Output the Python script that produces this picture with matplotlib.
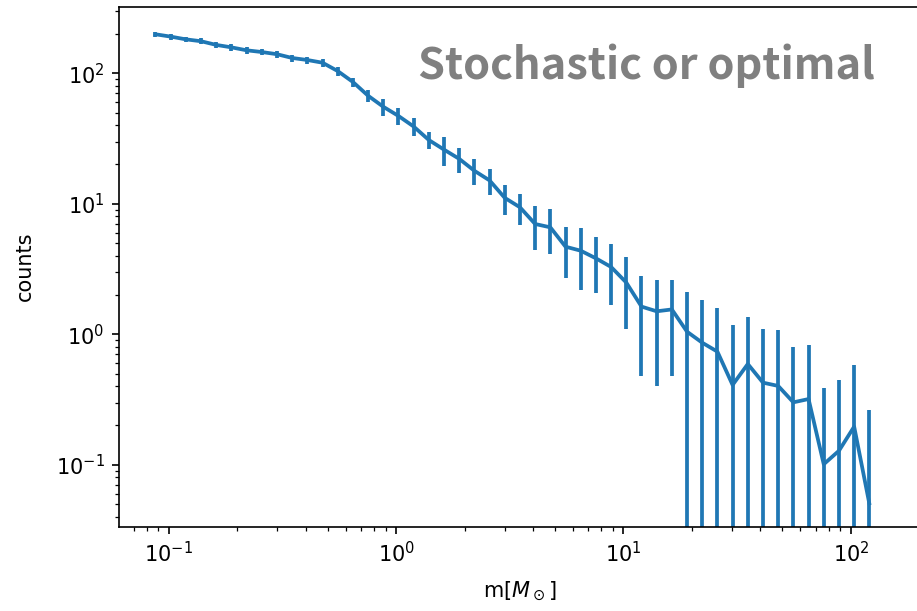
import numpy as np
import matplotlib.pyplot as plt


# ============================================================
#  data : mass bin centres, mean counts and their spread
# ============================================================
mass = [0.0874, 0.1019, 0.1188, 0.1387, 0.1617, 0.1886, 0.2199, 0.2565,
        0.2991, 0.3489, 0.4069, 0.4746, 0.5535, 0.6455, 0.7528, 0.8780,
        1.024, 1.194, 1.393, 1.624, 1.894, 2.209, 2.577, 3.005,
        3.505, 4.087, 4.767, 5.560, 6.484, 7.562, 8.820, 10.29,
        12.00, 13.99, 16.32, 19.03, 22.20, 25.89, 30.19, 35.22,
        41.07, 47.90, 55.87, 65.16, 75.99, 88.62, 103.4, 120.5]

counts = [199, 191, 182, 176, 165, 158, 150, 145.5,
          140, 131, 126.4, 120.5, 104, 85.8, 67.3, 55.4,
          47.1, 39.1, 30.8, 26.0, 22.1, 17.9, 15.1, 11.1,
          9.4, 7.0, 6.6, 4.69, 4.37, 3.82, 3.28, 2.49,
          1.63, 1.50, 1.55, 1.047, 0.862, 0.736, 0.409, 0.592,
          0.426, 0.402, 0.301, 0.319, 0.101, 0.128, 0.196, 0.0507]

err = [9.5, 10, 9, 9, 10, 9.5, 9, 8.5,
       8, 8, 8, 8, 8, 7, 7, 8,
       7, 6, 4.5, 6.5, 4.8, 4, 3.5, 2.9,
       2.5, 2.6, 2.5, 2.0, 2.2, 1.76, 1.6, 1.4,
       1.15, 1.1, 1.07, 1.05, 0.97, 0.85, 0.77, 0.76,
       0.68, 0.68, 0.50, 0.51, 0.29, 0.32, 0.39, 0.21]


# ============================================================
#  figure (917x611 px)
# ============================================================
W, H = 917, 611
DPI = 150
fig = plt.figure(figsize=(W / DPI, H / DPI), dpi=DPI)

# axes box in pixels: left 119, right ~921 (cut off by the image edge)
left, right, top, bottom = 119, 921, 6.7, 526.7
ax = fig.add_axes([left / W, 1 - bottom / H, (right - left) / W, (bottom - top) / H])

ax.errorbar(mass, counts, yerr=err, color="#1f77b4", lw=1.8, elinewidth=1.8)

ax.set_xscale("log")
ax.set_yscale("log")
ax.set_xlim(10 ** -1.2188, 10 ** 2.3085)
ax.set_ylim(0.03354, 323.7)

ax.set_xlabel(r"m[$M_\odot$]", labelpad=6.5)
ax.set_ylabel("counts", labelpad=10)

# --- label in the upper right ---
fig.text(418 / W, 1 - 79.3 / H, "Stochastic or optimal",
         ha="left", va="baseline", fontsize=20.8, fontweight="bold",
         color="#808080", family=["Noto Sans CJK SC", "DejaVu Sans"])

fig.savefig("out.png", dpi=DPI)
